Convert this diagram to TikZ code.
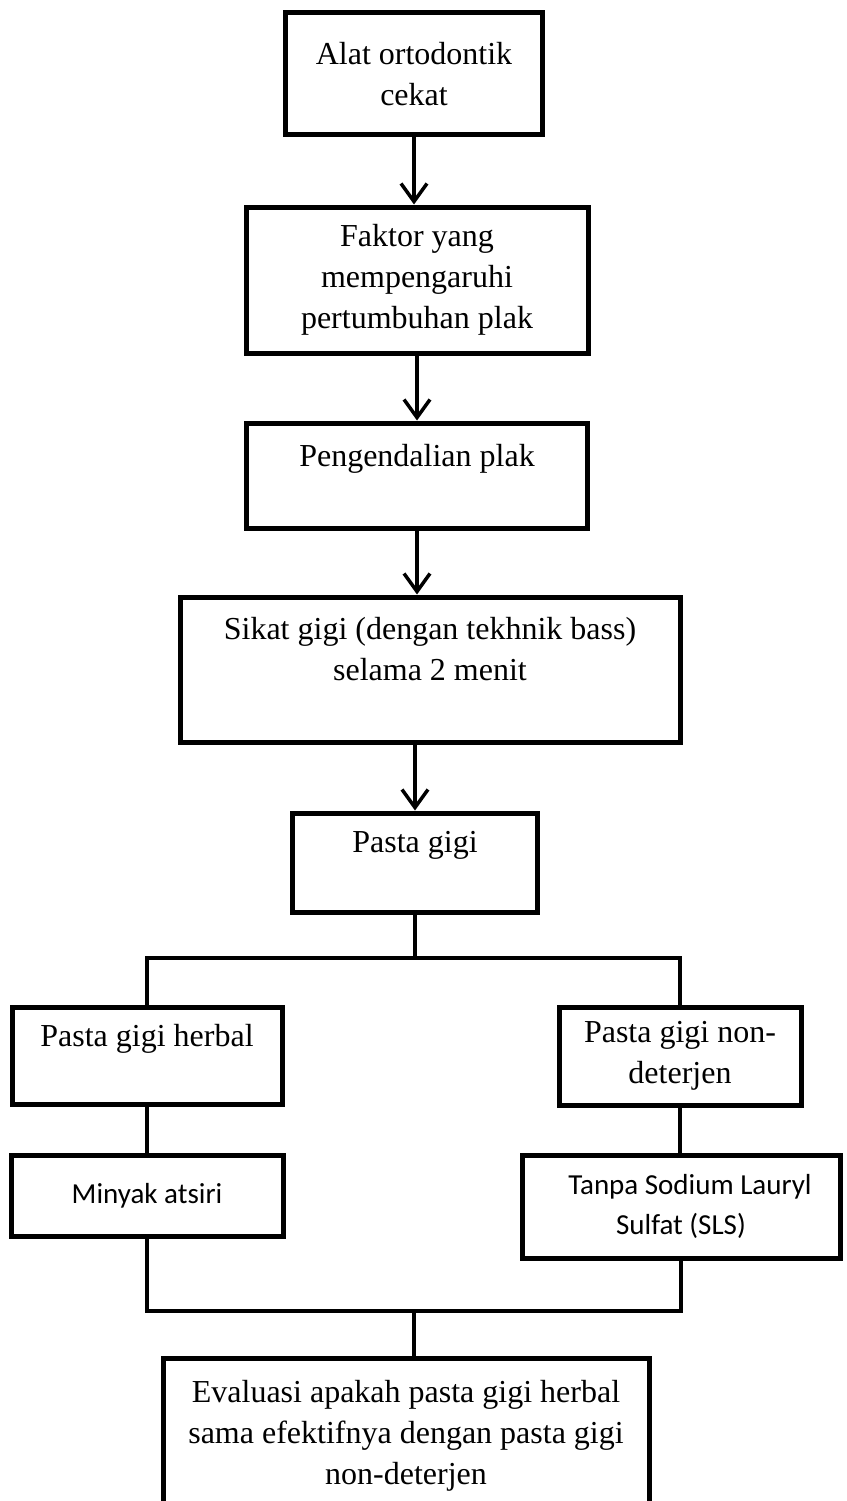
\documentclass[tikz,border=0pt]{standalone}
\usepackage{fontspec}
\setmainfont{Liberation Serif}
\newfontfamily\calibrifont{Carlito}
\usetikzlibrary{arrows.meta}
\begin{document}
\begin{tikzpicture}[x=1pt,y=-1pt,
    caixa/.style={draw,line width=5pt,align=center,inner sep=0pt,font=\fontsize{32}{41}\selectfont},
    caixasans/.style={caixa,font=\calibrifont\fontsize{29}{40}\selectfont},
    seta/.style={line width=3.5pt,-{Straight Barb[length=18pt,width=26pt,line width=3.5pt]}},
    linha/.style={line width=3.5pt}]
    \useasboundingbox (0,0) rectangle (846,1501);
    % Coluna principal
    \node[caixa,minimum width=257pt,minimum height=122pt] (alat) at (414,74) {Alat ortodontik\\cekat};
    \node[caixa,minimum width=342pt,minimum height=146pt] (faktor) at (417,280) {Faktor yang\\mempengaruhi\\pertumbuhan plak};
    \node[caixa,minimum width=341pt,minimum height=105pt] (pengendalian) at (417,475.5) {Pengendalian plak\\\mbox{}};
    \node[caixa,minimum width=500pt,minimum height=145pt] (sikat) at (430,669.5) {Sikat gigi (dengan tekhnik bass)\\selama 2 menit\\\mbox{}};
    \node[caixa,minimum width=245pt,minimum height=99pt] (pasta) at (415,862.5) {Pasta gigi\\\mbox{}};
    % Setas
    \draw[seta] (alat.south) -- (alat.south |- faktor.north);
    \draw[seta] (faktor.south) -- (faktor.south |- pengendalian.north);
    \draw[seta] (pengendalian.south) -- (pengendalian.south |- sikat.north);
    \draw[seta] (pasta.north |- sikat.south) -- (pasta.north);
    % Ramos
    \coordinate (cabang) at (415,958);
    \node[caixa,minimum width=270pt,minimum height=97pt] (herbal) at (147,1055.5) {Pasta gigi herbal\\\mbox{}};
    \node[caixa,minimum width=242pt,minimum height=98pt] (nondet) at (680,1056) {Pasta gigi non-\\deterjen};
    \node[caixasans,minimum width=272pt,minimum height=81pt] (minyak) at (147,1195.5) {Minyak atsiri};
    \node[caixasans,minimum width=318pt,minimum height=103pt] (tanpa) at (681,1206.5) {\hspace*{18pt}Tanpa Sodium Lauryl\\Sulfat (SLS)};
    \draw[linha] (pasta.south) -- (cabang);
    \draw[linha] (herbal.north) |- (cabang) -| (nondet.north);
    \draw[linha] (herbal.south) -- (herbal.south |- minyak.north);
    \draw[linha] (nondet.south) -- (nondet.south |- tanpa.north);
    % Juncao
    \coordinate (juncao) at (414,1311);
    \draw[linha] (minyak.south) |- (juncao) -| (tanpa.south);
    % Avaliacao
    \node[caixa,minimum width=486pt,minimum height=156pt] (avaliacao) at (406,1436) {Evaluasi apakah pasta gigi herbal\\sama efektifnya dengan pasta gigi\\non-deterjen};
    \draw[linha] (juncao) -- (juncao |- avaliacao.north);
\end{tikzpicture}
\end{document}
